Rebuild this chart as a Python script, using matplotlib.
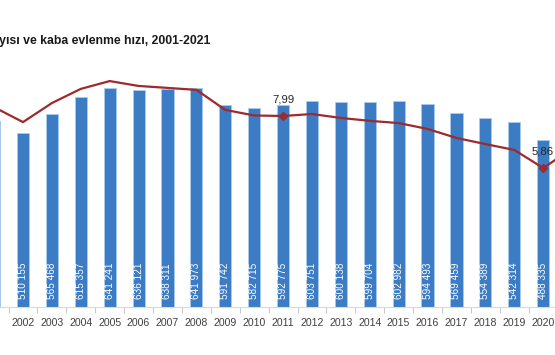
import numpy as np
import matplotlib.pyplot as plt

plt.rcParams['font.family'] = ['Liberation Sans', 'DejaVu Sans']

# Data
years = list(range(2001, 2022))
marriages = [544322, 510155, 565468, 615357, 641241, 636121, 638311, 641973,
             591742, 582715, 592775, 603751, 600138, 599704, 602982, 594493,
             569459, 554389, 542314, 488335, 563140]
rate = [8.35, 7.74, 8.52, 9.10, 9.42, 9.22, 9.14, 9.06, 8.24, 8.01, 7.99,
        8.07, 7.91, 7.79, 7.70, 7.46, 7.09, 6.84, 6.60, 5.86, 6.65]
rate_labels = {2001: '8,35', 2011: '7,99', 2020: '5,86'}
title = 'Evlenen çift sayısı ve kaba evlenme hızı, 2001-2021'

bar_col = '#3b7cc4'
line_col = '#9d2a2c'

fig = plt.figure(figsize=(5.55, 3.55), dpi=100)
ax = fig.add_axes([0, 1 - 307 / 355, 1, 307 / 355])
ax.patch.set_alpha(0)

ax.bar(years, marriages, width=0.42, color=bar_col, edgecolor='#a9cbee', linewidth=0.6, zorder=2)
for yr, n in zip(years, marriages):
    s = f'{n:,}'.replace(',', ' ')
    ax.annotate(s, (yr, 0), xytext=(0, 6), textcoords='offset points',
                rotation=90, ha='center', va='bottom', color='white', fontsize=7.2,
                zorder=3, annotation_clip=True)

ax.set_ylim(0, 307 * 2928)
ax.set_xticks(years)
ax.set_xticklabels([str(y) for y in years])
ax.set_xticks(np.arange(2000.5, 2022, 1), minor=True)
ax.tick_params(axis='x', which='major', length=0, pad=8, labelsize=7.6, colors='#404040')
ax.tick_params(axis='x', which='minor', length=4, color='#bfbfbf')
ax.set_yticks([])
for sp in ['top', 'left', 'right']:
    ax.spines[sp].set_visible(False)
ax.spines['bottom'].set_color('#d9d9d9')

# rate line on second axis
ax2 = ax.twinx()
ax2.plot(years, rate, color=line_col, linewidth=1.6, zorder=4)
for yr, lab in rate_labels.items():
    v = rate[years.index(yr)]
    ax2.plot(yr, v, marker='D', markersize=4.5, color=line_col, zorder=5)
    ax2.annotate(lab, (yr, v), xytext=(0, 8), textcoords='offset points',
                 ha='center', va='bottom', fontsize=8.2, color='#262626')
ax2.set_ylim(0.167, 12.74)
ax2.set_yticks([])
for sp in ['top', 'left', 'right', 'bottom']:
    ax2.spines[sp].set_visible(False)

# the picture is a crop: 2001 and 2021 sit on the edges
ax.set_xlim(2001.204, 2020.41)

fig.text(210 / 555, 1 - 41 / 355, title, ha='right', va='center',
         fontsize=8.8, fontweight='bold', color='#1a1a1a')

fig.savefig('out.png', dpi=100)
